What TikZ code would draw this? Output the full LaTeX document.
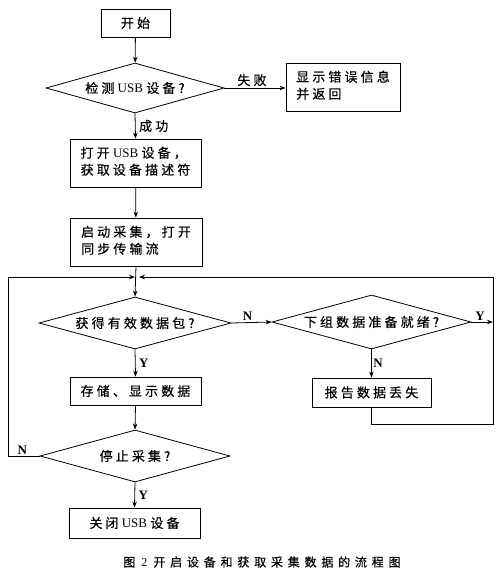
\documentclass[tikz,border=0pt]{standalone}
\usepackage{fontspec}
\setmainfont{Liberation Serif}
\newfontfamily\cjkfont[LetterSpace=24,FakeBold=0.4]{Noto Sans CJK SC}
\newfontfamily\capfont[LetterSpace=40,FakeBold=0.4]{Noto Sans CJK SC}
\newcommand{\zh}[1]{{\cjkfont #1}}
\newcommand{\zc}[1]{{\capfont #1}}
\usetikzlibrary{shapes.geometric,arrows.meta}
\begin{document}
\begin{tikzpicture}[x=1pt,y=-1pt,
  font=\fontsize{13}{16}\selectfont,
  line width=0.8pt,
  box/.style={draw,rectangle,inner sep=0pt,minimum width=#1},
  dia/.style={draw,diamond,inner sep=0pt},
  arr/.style={-{Stealth[length=6pt,width=4.5pt]}},
  lbl/.style={inner sep=1.5pt,font=\fontsize{13}{16}\selectfont\bfseries},
  zlbl/.style={inner sep=1.5pt,font=\fontsize{13}{16}\selectfont}]
\useasboundingbox (0,0) rectangle (502,576);
% nodes
\node[box=69pt,minimum height=28pt] (start) at (135.5,23) {\zh{开始}};
\node[dia,minimum width=178pt,minimum height=50pt,shape aspect=3.56] (d1) at (135,88) {\zh{检测}\ USB\ \zh{设备?}};
\node[box=114pt,minimum height=48pt] (err) at (343,87) {\begin{tabular}{@{}l@{}}\zh{显示错误信息}\\[1pt]\zh{并返回}\end{tabular}};
\node[box=131pt,minimum height=48pt] (open) at (135.5,163) {\begin{tabular}{@{}l@{}}\zh{打开}\ USB\ \zh{设备，}\\[1pt]\zh{获取设备描述符}\end{tabular}};
\node[box=132pt,minimum height=48pt] (acq) at (136,242) {\begin{tabular}{@{}l@{}}\zh{启动采集，打开}\\[1pt]\zh{同步传输流}\end{tabular}};
\coordinate (m) at (135,277);
\node[dia,minimum width=192pt,minimum height=52pt,shape aspect=3.7] (d2) at (135,323) {\zh{获得有效数据包?}};
\node[dia,minimum width=199pt,minimum height=54pt,shape aspect=3.7] (d3) at (371.5,322) {\zh{下组数据准备就绪?}};
\node[box=131pt,minimum height=28pt] (store) at (135.5,391) {\zh{存储、显示数据}};
\node[box=119pt,minimum height=29pt] (report) at (371.5,392.5) {\zh{报告数据丢失}};
\node[dia,minimum width=190pt,minimum height=52pt,shape aspect=3.65] (d4) at (135,456) {\zh{停止采集?}};
\node[box=131pt,minimum height=30pt] (close) at (134.5,523) {\zh{关闭}\ USB\ \zh{设备}};
\node[font=\fontsize{12}{14}\selectfont] (cap) at (262,562) {\zc{图}\ \ 2\ \ \zc{开启设备和获取采集数据的流程图}};
% loop corners
\coordinate (lt) at (8,277);
\coordinate (lb) at (8,456);
\coordinate (rt) at (493,277);
\coordinate (rm) at (493,322);
\coordinate (rb) at (493,424);
\coordinate (rp) at (371.5,424);
% connectors
\draw[arr] (start) -- (d1);
\draw[arr] (d1.east) -- node[zlbl,above,pos=0.45]{\zh{失败}} (d1.east -| err.west);
\draw[arr] (d1.south) -- node[zlbl,right,pos=0.5,xshift=2pt]{\zh{成功}} (open.north);
\draw[arr] (open) -- (acq);
\draw[arr] (acq.south) -- (d2.north);
\draw[arr] (d2.east) -- node[lbl,above,pos=0.4]{N} (d3.west);
\draw[arr] (d3.east) -- node[lbl,above,pos=0.4]{Y} (rm);
\draw[arr] (d3.south) -- node[lbl,right,pos=0.5]{N} (report.north);
\draw (report.south) -- (rp) -- (rb) -- (rt);
\draw[arr] (rt) -- ([xshift=4pt]m);
\draw[arr] (d2.south) -- node[lbl,right,pos=0.5,xshift=2pt]{Y} (store.north);
\draw[arr] (store.south) -- (d4.north);
\draw (d4.west) -- node[lbl,above,pos=0.55]{N} (lb) -- (lt);
\draw[arr] (lt) -- (m);
\draw[arr] (d4.south) -- node[lbl,right,pos=0.5,xshift=2pt]{Y} (close.north);
\end{tikzpicture}
\end{document}
